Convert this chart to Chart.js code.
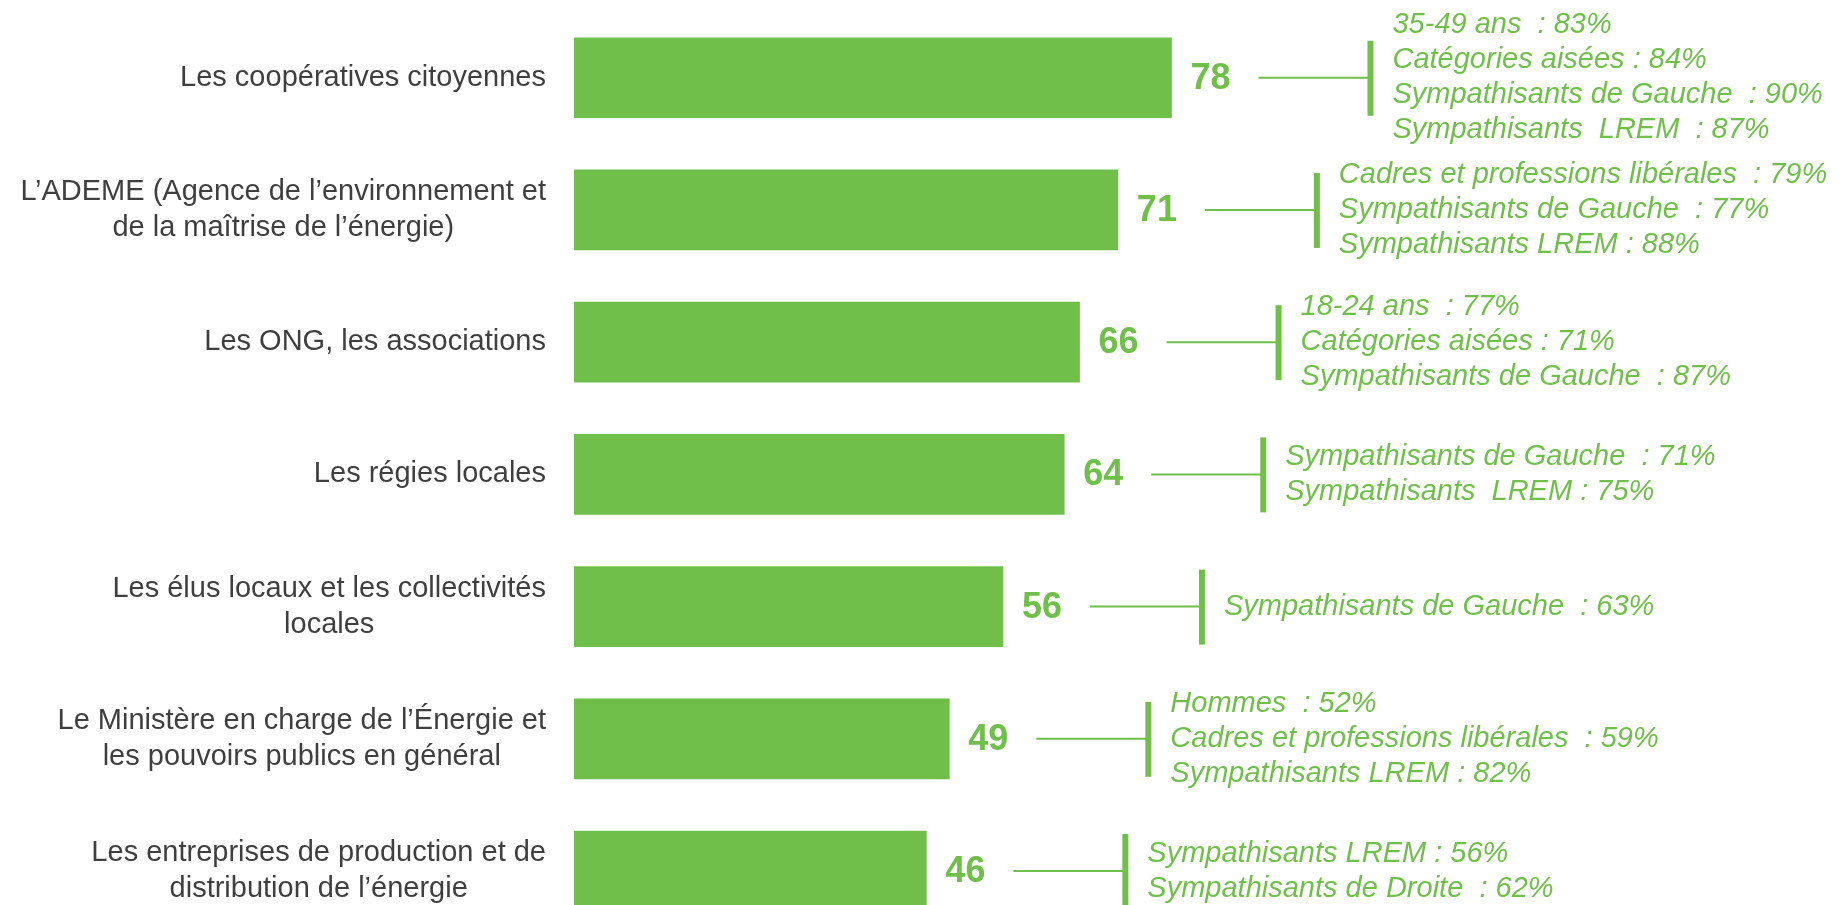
<!DOCTYPE html>
<html lang="fr">
<head>
<meta charset="utf-8">
<title>Confiance – acteurs de l’énergie</title>
<script src="https://cdn.jsdelivr.net/npm/chart.js@4/dist/chart.umd.min.js"></script>
<style>
    html, body {
        margin: 0;
        padding: 0;
        background: #ffffff;
        overflow: hidden;
    }
    #wrap {
        width: 1848px;
        height: 905px;
    }
</style>
</head>
<body>
<div id="wrap"><canvas id="trustChart" width="1848" height="905"></canvas></div>
<script>
const categories = [
    ['Les coopératives citoyennes'],
    ['L’ADEME (Agence de l’environnement et', 'de la maîtrise de l’énergie)'],
    ['Les ONG, les associations'],
    ['Les régies locales'],
    ['Les élus locaux et les collectivités', 'locales'],
    ['Le Ministère en charge de l’Énergie et', 'les pouvoirs publics en général'],
    ['Les entreprises de production et de', 'distribution de l’énergie'],
];

const values = [78, 71, 66, 64, 56, 49, 46];

const details = [
    ['35-49 ans  : 83%', 'Catégories aisées : 84%', 'Sympathisants de Gauche  : 90%', 'Sympathisants  LREM  : 87%'],
    ['Cadres et professions libérales  : 79%', 'Sympathisants de Gauche  : 77%', 'Sympathisants LREM : 88%'],
    ['18-24 ans  : 77%', 'Catégories aisées : 71%', 'Sympathisants de Gauche  : 87%'],
    ['Sympathisants de Gauche  : 71%', 'Sympathisants  LREM : 75%'],
    ['Sympathisants de Gauche  : 63%'],
    ['Hommes  : 52%', 'Cadres et professions libérales  : 59%', 'Sympathisants LREM : 82%'],
    ['Sympathisants LREM : 56%', 'Sympathisants de Droite  : 62%'],
];

const GREEN = '#70BF4B';
const GREY = '#3F3F3F';
const FONT = "'Liberation Sans', Arial, sans-serif";

// category labels: block right-aligned next to the bars, lines centred inside the block
const categoryLabels = {
    id: 'categoryLabels',
    afterDraw(chart) {
        const ctx = chart.ctx;
        const yScale = chart.scales.y;
        const right = chart.chartArea.left - 28;
        const lineHeight = 36;

        ctx.save();
        ctx.font = '29px ' + FONT;
        ctx.fillStyle = GREY;
        ctx.textAlign = 'center';
        ctx.textBaseline = 'middle';

        categories.forEach((lines, i) => {
            const blockWidth = Math.max(...lines.map((l) => ctx.measureText(l).width));
            const cx = right - blockWidth / 2;
            const cy = yScale.getPixelForValue(i);
            const top = cy - (lines.length - 1) * lineHeight / 2;
            lines.forEach((line, j) => {
                ctx.fillText(line, cx, top + j * lineHeight);
            });
        });
        ctx.restore();
    },
};

// value, connector and sub-group details after each bar
const barNotes = {
    id: 'barNotes',
    afterDatasetsDraw(chart) {
        const ctx = chart.ctx;
        const meta = chart.getDatasetMeta(0);

        ctx.save();
        meta.data.forEach((bar, i) => {
            const end = bar.x;
            const cy = bar.y;

            ctx.fillStyle = GREEN;
            ctx.font = 'bold 36px ' + FONT;
            ctx.textAlign = 'left';
            ctx.textBaseline = 'middle';
            ctx.fillText(String(values[i]), end + 19, cy + 1);

            ctx.strokeStyle = GREEN;
            ctx.lineWidth = 2;
            ctx.beginPath();
            ctx.moveTo(end + 87, cy);
            ctx.lineTo(end + 197, cy);
            ctx.stroke();

            ctx.fillRect(end + 196, cy - 37, 6, 75);

            // keep the tallest group inside the top edge
            const lines = details[i];
            const lineHeight = 35;
            const top = Math.max(20, cy - (lines.length - 1) * lineHeight / 2);
            ctx.font = 'italic 29px ' + FONT;
            lines.forEach((line, j) => {
                ctx.fillText(line, end + 221, top + j * lineHeight);
            });
        });
        ctx.restore();
    },
};

const ctx = document.getElementById('trustChart').getContext('2d');

const trustChart = new Chart(ctx, {
    type: 'bar',
    data: {
        datasets: [
            {
                data: values.map((v, i) => ({ x: v, y: i })),
                backgroundColor: GREEN,
                borderWidth: 0,
                barThickness: 80,
            },
        ],
    },
    options: {
        indexAxis: 'y',
        responsive: false,
        animation: false,
        layout: {
            padding: {
                left: 574,
                right: 508,
                top: 0,
                bottom: 0,
            },
        },
        scales: {
            x: {
                display: false,
                min: 0,
                max: 100,
            },
            y: {
                type: 'linear',
                display: false,
                reverse: true,
                offset: false,
                min: -0.588,
                max: 6.257,
            },
        },
        plugins: {
            legend: {
                display: false,
            },
            tooltip: {
                enabled: false,
            },
        },
    },
    plugins: [categoryLabels, barNotes],
});
</script>
</body>
</html>
